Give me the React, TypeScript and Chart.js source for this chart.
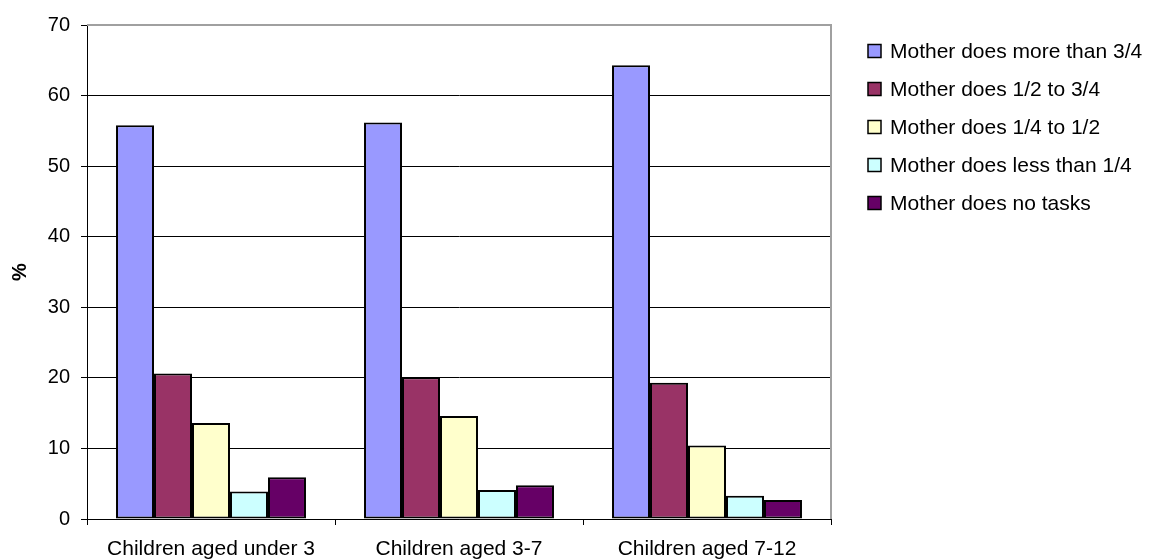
import React, { useEffect, useRef } from "react";
import { Chart, registerables } from "chart.js";

Chart.register(...registerables);

// Age groups along the x axis
const categories = ["Children aged under 3", "Children aged 3-7", "Children aged 7-12"];

// Share of childcare tasks done by the mother (%)
const seriesNames = [
  "Mother does more than 3/4",
  "Mother does 1/2 to 3/4",
  "Mother does 1/4 to 1/2",
  "Mother does less than 1/4",
  "Mother does no tasks",
];
const moreThanThreeQuarters = [55.8, 56.2, 64.3];
const halfToThreeQuarters = [20.6, 20.1, 19.3];
const quarterToHalf = [13.6, 14.6, 10.4];
const lessThanQuarter = [3.9, 4.1, 3.3];
const noTasks = [5.9, 4.8, 2.7];

const seriesColors = ["#9999FF", "#993366", "#FFFFCC", "#CCFFFF", "#660066"];

// Y axis range and step
const yMin = 0;
const yMax = 70;
const yStep = 10;
const yTitle = "%";

const FONT = "'Liberation Sans', Arial, Helvetica, sans-serif";

// Grey frame on the top and right side of the plot area
const plotFrame = {
  id: "plotFrame",
  beforeDatasetsDraw(chart: any) {
    const { ctx, chartArea } = chart;
    ctx.save();
    ctx.strokeStyle = "#a0a0a0";
    ctx.lineWidth = 2;
    ctx.beginPath();
    ctx.moveTo(chartArea.left, chartArea.top);
    ctx.lineTo(chartArea.right, chartArea.top);
    ctx.lineTo(chartArea.right, chartArea.bottom);
    ctx.stroke();
    ctx.restore();
  },
};

// Legend drawn as a fixed list to the right of the plot
const sideLegend = {
  id: "sideLegend",
  afterDraw(chart: any) {
    const { ctx } = chart;
    const boxX = 868;
    const firstY = 51;
    const rowGap = 38;
    const box = 13;
    ctx.save();
    ctx.font = `21px ${FONT}`;
    ctx.textBaseline = "middle";
    ctx.textAlign = "left";
    chart.data.datasets.forEach((ds: any, i: number) => {
      const cy = firstY + i * rowGap;
      ctx.fillStyle = ds.backgroundColor;
      ctx.fillRect(boxX, cy - box / 2, box, box);
      ctx.strokeStyle = "#000";
      ctx.lineWidth = 1.5;
      ctx.strokeRect(boxX, cy - box / 2, box, box);
      ctx.fillStyle = "#000";
      ctx.fillText(ds.label, boxX + 22, cy + 1);
    });
    ctx.restore();
  },
};

export default function App() {
  const canvasRef = useRef<HTMLCanvasElement | null>(null);

  useEffect(() => {
    document.body.style.margin = "0";
    const canvas = canvasRef.current;
    if (!canvas) return;
    const values = [
      moreThanThreeQuarters,
      halfToThreeQuarters,
      quarterToHalf,
      lessThanQuarter,
      noTasks,
    ];
    const chart = new Chart(canvas, {
      type: "bar",
      data: {
        labels: categories,
        datasets: seriesNames.map((name, i) => ({
          label: name,
          data: values[i],
          backgroundColor: seriesColors[i],
          borderColor: "#000",
          borderWidth: 2,
          borderSkipped: false,
          categoryPercentage: 0.766,
          barPercentage: 1,
        })),
      },
      options: {
        responsive: false,
        animation: false,
        devicePixelRatio: 1,
        layout: { padding: { top: 25, right: 319, bottom: 0, left: 0 } },
        plugins: {
          legend: { display: false },
          tooltip: { enabled: false },
        },
        scales: {
          x: {
            offset: true,
            grid: {
              offset: true,
              drawOnChartArea: false,
              color: "#000",
              tickLength: 6,
            },
            border: { color: "#000", width: 1 },
            ticks: {
              color: "#000",
              font: { family: FONT, size: 21 },
              padding: 12,
              maxRotation: 0,
            },
            afterFit(scale: any) {
              scale.height = 41;
            },
          },
          y: {
            min: yMin,
            max: yMax,
            ticks: {
              stepSize: yStep,
              color: "#000",
              font: { family: FONT, size: 20 },
              padding: 11,
            },
            grid: {
              color: (c: any) => (c.tick && c.tick.value === yMax ? "rgba(0,0,0,0)" : "#000"),
              tickColor: "#000",
              lineWidth: 1,
              tickLength: 6,
            },
            border: { color: "#000", width: 1 },
            title: {
              display: true,
              text: yTitle,
              color: "#000",
              font: { family: FONT, size: 20, weight: "bold" },
              padding: { top: 8, bottom: 0 },
            },
            afterFit(scale: any) {
              scale.width = 87;
            },
          },
        },
      },
      plugins: [plotFrame, sideLegend],
    });
    return () => chart.destroy();
  }, []);

  return (
    <div style={{ width: 1150, height: 560, position: "relative", background: "#fff" }}>
      <canvas ref={canvasRef} width={1150} height={560} style={{ display: "block" }} />
    </div>
  );
}
